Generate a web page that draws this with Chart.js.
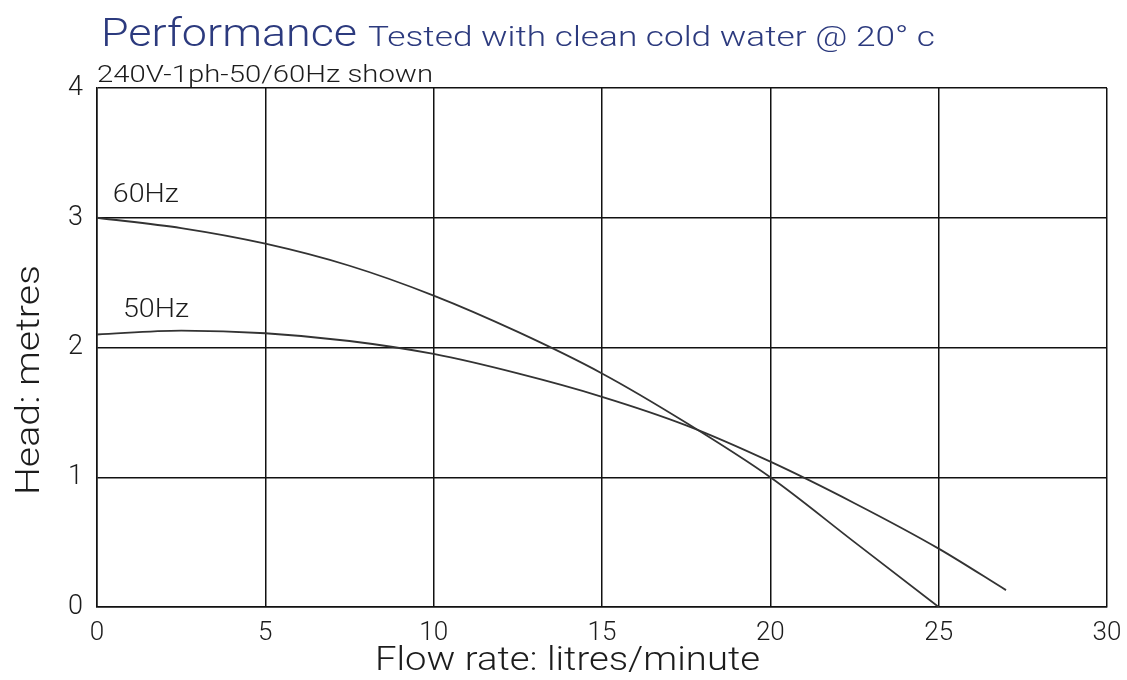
<!DOCTYPE html>
<html>
<head>
<meta charset="utf-8">
<script src="https://cdn.jsdelivr.net/npm/chart.js@4.4.1/dist/chart.umd.min.js"></script>
<style>
  html, body { margin: 0; padding: 0; background: #fff; }
  #wrap { position: relative; width: 1127px; height: 680px; }
</style>
</head>
<body>
<div id="wrap"><canvas id="perf-chart" width="1127" height="680"></canvas></div>
<script>
// values
const flow60 = [0, 2.5, 5, 7.5, 10, 12.5, 15, 17.5, 20, 22.5, 25];
const head60 = [3.0, 2.92, 2.8, 2.63, 2.4, 2.12, 1.8, 1.42, 1.0, 0.5, 0.0];
const flow50 = [0, 2.5, 5, 7.5, 10, 12.5, 15, 17.5, 20, 22.5, 25, 27];
const head50 = [2.1, 2.13, 2.11, 2.05, 1.95, 1.8, 1.62, 1.4, 1.12, 0.8, 0.45, 0.13];

const xTicks = [0, 5, 10, 15, 20, 25, 30];
const yTicks = [0, 1, 2, 3, 4];

const seriesLabels = ["60Hz", "50Hz"];
const labelFlow = [1.45, 1.75];
const labelHead = [3.17, 2.28];

const titleMain = "Performance";
const titleRest = "Tested with clean cold water @ 20\u00b0 c";
const subTitle = "240V-1ph-50/60Hz shown";
const xTitle = "Flow rate: litres/minute";
const yTitle = "Head: metres";

const fontFamily = "Roboto, 'DejaVu Sans', sans-serif";
const textColor = "#1c1c1c";

function toPoints(xs, ys) {
  return xs.map((x, i) => ({ x: x, y: ys[i] }));
}

// draws text stretched to a given width (the original uses a wide geometric face)
function fitText(ctx, text, x, y, width) {
  const w = ctx.measureText(text).width;
  ctx.save();
  ctx.translate(x, y);
  ctx.scale(width / w, 1);
  ctx.fillText(text, 0, 0);
  ctx.restore();
}

const headerPlugin = {
  id: "header",
  afterDraw(chart) {
    const ctx = chart.ctx;
    ctx.save();
    ctx.textBaseline = "alphabetic";
    ctx.textAlign = "left";
    ctx.fillStyle = "#2c3a7e";
    ctx.font = "300 39px " + fontFamily;
    fitText(ctx, titleMain, 101, 46, 256);
    ctx.font = "300 27px " + fontFamily;
    fitText(ctx, titleRest, 368, 46, 567);
    ctx.fillStyle = textColor;
    ctx.font = "300 23px " + fontFamily;
    fitText(ctx, subTitle, 97, 82, 336);

    // axis titles
    ctx.font = "300 33px " + fontFamily;
    ctx.textBaseline = "middle";
    fitText(ctx, xTitle, 375, 662, 385);
    ctx.save();
    ctx.translate(31, 495);
    ctx.rotate(-Math.PI / 2);
    fitText(ctx, yTitle, 0, 0, 230);
    ctx.restore();

    // curve names, placed through the scales
    const xs = chart.scales.x;
    const ys = chart.scales.y;
    ctx.font = "300 25px " + fontFamily;
    seriesLabels.forEach((label, i) => {
      const cx = xs.getPixelForValue(labelFlow[i]);
      fitText(ctx, label, cx - 33, ys.getPixelForValue(labelHead[i]), 66);
    });
    ctx.restore();
  },
};

new Chart(document.getElementById("perf-chart"), {
  type: "scatter",
  data: {
    datasets: [
      {
        label: "60Hz",
        data: toPoints(flow60, head60),
        showLine: true,
        borderColor: "#333",
        borderWidth: 1.8,
        pointRadius: 0,
        cubicInterpolationMode: "monotone",
      },
      {
        label: "50Hz",
        data: toPoints(flow50, head50),
        showLine: true,
        borderColor: "#333",
        borderWidth: 1.8,
        pointRadius: 0,
        cubicInterpolationMode: "monotone",
      },
    ],
  },
  options: {
    responsive: false,
    animation: false,
    layout: { padding: { left: 0, top: 88, right: 20, bottom: 0 } },
    plugins: {
      legend: { display: false },
      tooltip: { enabled: false },
    },
    scales: {
      x: {
        type: "linear",
        min: 0,
        max: 30,
        afterBuildTicks: (scale) => { scale.ticks = xTicks.map((v) => ({ value: v })); },
        afterFit: (scale) => {
          scale.height = 73;
          scale.paddingRight = 0;
        },
        grid: { color: "#111", lineWidth: 1.5, drawTicks: false },
        border: { color: "#111", width: 1.5 },
        ticks: { color: textColor, font: { family: fontFamily, size: 26, weight: 300 }, padding: 11, maxRotation: 0 },
      },
      y: {
        type: "linear",
        min: 0,
        max: 4,
        afterBuildTicks: (scale) => { scale.ticks = yTicks.map((v) => ({ value: v })); },
        afterFit: (scale) => { scale.width = 97; },
        grid: { color: "#111", lineWidth: 1.5, drawTicks: false },
        border: { color: "#111", width: 1.5 },
        ticks: { color: textColor, font: { family: fontFamily, size: 27, weight: 300 }, padding: 14 },
      },
    },
  },
  plugins: [headerPlugin],
});
</script>
</body>
</html>
